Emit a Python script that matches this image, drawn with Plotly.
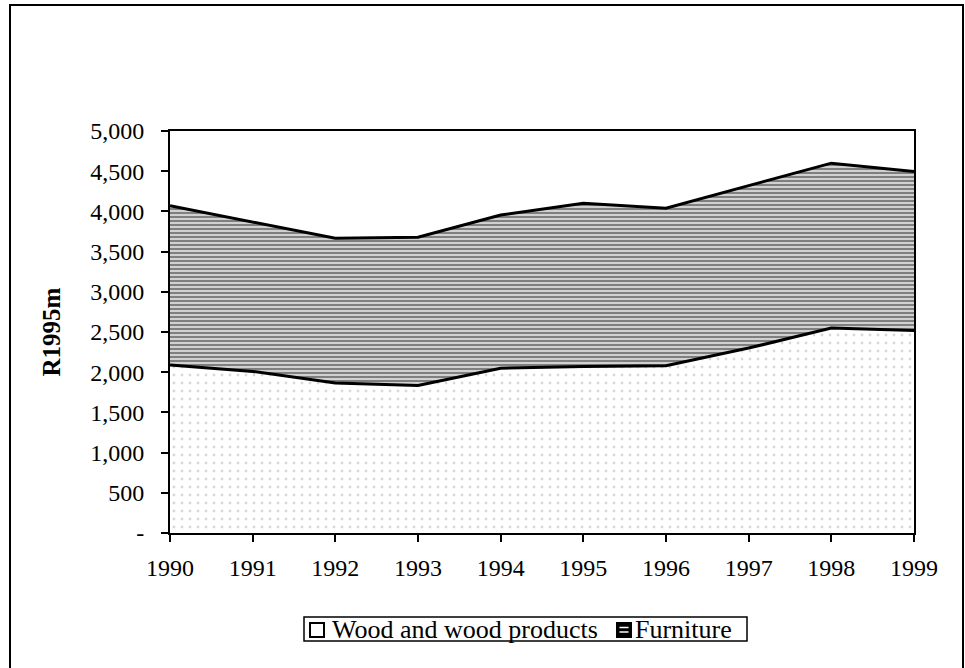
import plotly.graph_objects as go

years = [1990, 1991, 1992, 1993, 1994, 1995, 1996, 1997, 1998, 1999]
wood = [2090, 2010, 1865, 1835, 2050, 2070, 2080, 2300, 2550, 2520]
furniture = [1980, 1860, 1800, 1845, 1905, 2030, 1960, 2020, 2050, 1975]
ytick_vals = [0, 500, 1000, 1500, 2000, 2500, 3000, 3500, 4000, 4500, 5000]
ytick_text = ["-", "500", "1,000", "1,500", "2,000", "2,500", "3,000", "3,500", "4,000", "4,500", "5,000"]
series_names = ["Wood and wood products", "Furniture"]

FONT = "Liberation Serif, Times New Roman, serif"

fig = go.Figure()
fig.add_trace(go.Scatter(
    x=years, y=wood, name=series_names[0], stackgroup="one",
    mode="lines", line=dict(color="black", width=3), showlegend=False,
    fillpattern=dict(shape=".", fgcolor="#b4b4b4", bgcolor="white", size=8, solidity=0.1),
))
fig.add_trace(go.Scatter(
    x=years, y=furniture, name=series_names[1], stackgroup="one",
    mode="lines", line=dict(color="black", width=3), showlegend=False,
    fillpattern=dict(shape="-", fgcolor="black", bgcolor="white", size=4, solidity=0.68),
))

L, R, T, B = 170, 914, 131, 533
W, H = 965, 668
pw, ph = R - L, B - T

def px(x):
    return (x - L) / pw

def py(y):
    return (B - y) / ph

shapes = []
# outer chart frame
shapes.append(dict(type="rect", xref="paper", yref="paper",
                   x0=px(10), x1=px(963), y0=py(672), y1=py(5),
                   line=dict(color="black", width=2), fillcolor="rgba(0,0,0,0)", layer="below"))
# legend frame
shapes.append(dict(type="rect", xref="paper", yref="paper",
                   x0=px(304), x1=px(747), y0=py(641), y1=py(617),
                   line=dict(color="black", width=1.5), fillcolor="white", layer="below"))
# wood swatch
shapes.append(dict(type="rect", xref="paper", yref="paper",
                   x0=px(310), x1=px(324), y0=py(637), y1=py(623),
                   line=dict(color="black", width=2), fillcolor="white"))
# furniture swatch
shapes.append(dict(type="rect", xref="paper", yref="paper",
                   x0=px(617), x1=px(631), y0=py(637), y1=py(623),
                   line=dict(color="black", width=2), fillcolor="black"))
for yy in (627.5, 632):
    shapes.append(dict(type="line", xref="paper", yref="paper",
                       x0=px(619.5), x1=px(628.5), y0=py(yy), y1=py(yy),
                       line=dict(color="white", width=1.5)))

annotations = [
    dict(text=series_names[0], xref="paper", yref="paper", x=px(330), y=py(629.5),
         xanchor="left", yanchor="middle", showarrow=False,
         font=dict(family=FONT, size=26, color="black")),
    dict(text=series_names[1], xref="paper", yref="paper", x=px(633), y=py(629.5),
         xanchor="left", yanchor="middle", showarrow=False,
         font=dict(family=FONT, size=26, color="black")),
]

fig.update_layout(
    width=W, height=H,
    margin=dict(l=L, r=W - R, t=T, b=H - B, pad=0),
    paper_bgcolor="white", plot_bgcolor="white",
    font=dict(family=FONT, size=24, color="black"),
    showlegend=False,
    shapes=shapes, annotations=annotations,
)
fig.update_xaxes(
    range=[1990, 1999], tickmode="array", tickvals=years, ticktext=[str(y) for y in years],
    showgrid=False, zeroline=False, showline=True, linecolor="black", linewidth=2, mirror=True,
    ticks="outside", ticklen=7, tickwidth=1.5, tickcolor="black", ticklabelstandoff=5,
    tickfont=dict(family=FONT, size=24, color="black"),
)
fig.update_yaxes(
    range=[0, 5000], tickmode="array", tickvals=ytick_vals, ticktext=ytick_text,
    showgrid=False, zeroline=False, showline=True, linecolor="black", linewidth=2, mirror=True,
    ticks="outside", ticklen=7, tickwidth=1.5, tickcolor="black", ticklabelstandoff=12,
    tickfont=dict(family=FONT, size=24, color="black"),
    title=dict(text="<b>R1995m</b>", font=dict(family=FONT, size=25, color="black"), standoff=22),
)

fig.write_html("out.html", config={"displayModeBar": False},
               post_script="document.body.style.margin='0px';")
